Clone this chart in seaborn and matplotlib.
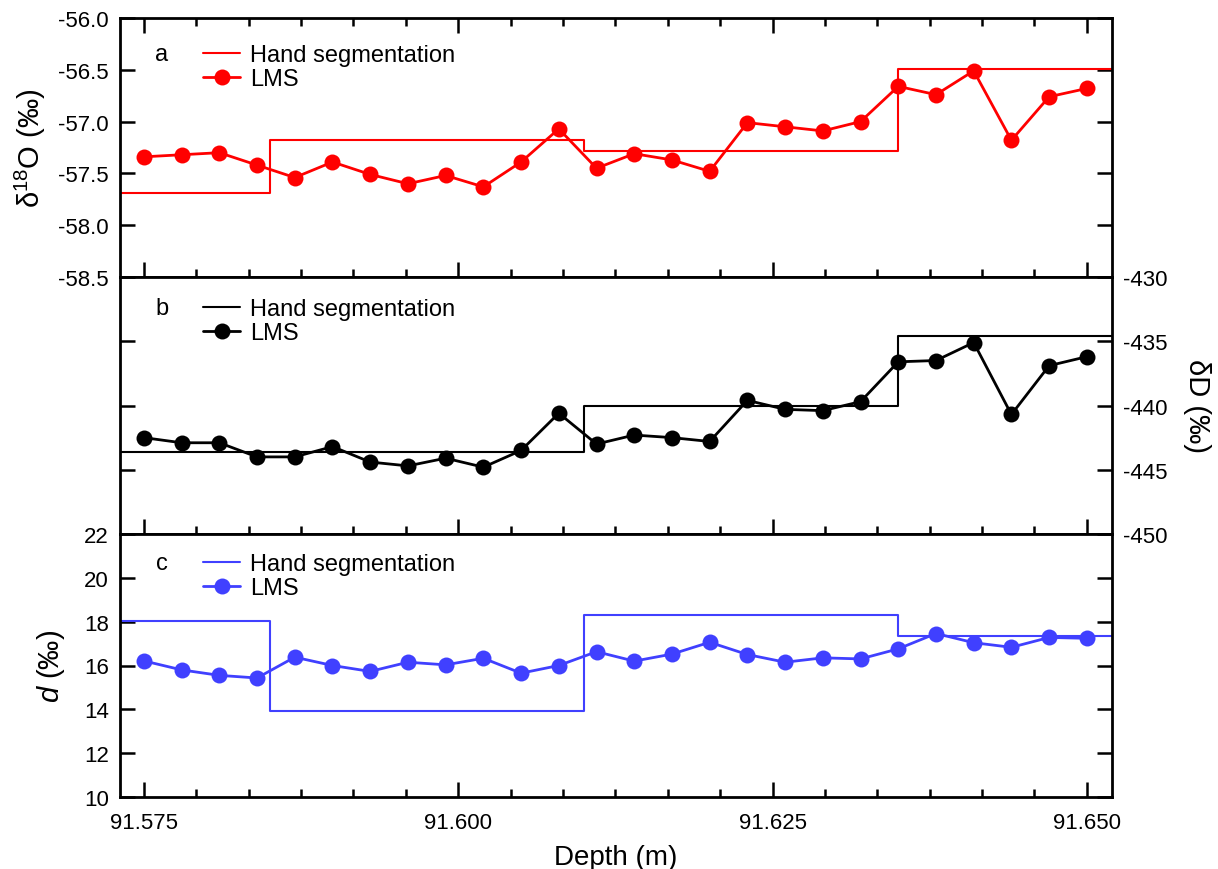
import matplotlib
matplotlib.use("Agg")
import matplotlib.pyplot as plt
import seaborn as sns
from matplotlib.ticker import MultipleLocator, AutoMinorLocator, FormatStrFormatter

# ---------------- data ----------------
depth = [91.575, 91.578, 91.581, 91.584, 91.587, 91.590, 91.593, 91.596, 91.599,
         91.602, 91.605, 91.608, 91.611, 91.614, 91.617, 91.620, 91.623, 91.626,
         91.629, 91.632, 91.635, 91.638, 91.641, 91.644, 91.647, 91.650]

d18O_lms = [-57.34, -57.32, -57.30, -57.42, -57.54, -57.39, -57.51, -57.60, -57.52,
            -57.63, -57.39, -57.07, -57.45, -57.31, -57.37, -57.48, -57.01, -57.05,
            -57.09, -57.00, -56.66, -56.74, -56.51, -57.18, -56.76, -56.68]

dD_lms = [-442.5, -442.9, -442.9, -444.0, -444.0, -443.2, -444.4, -444.7, -444.1,
          -444.8, -443.5, -440.6, -443.0, -442.3, -442.5, -442.8, -439.6, -440.3,
          -440.4, -439.7, -436.6, -436.5, -435.1, -440.7, -436.9, -436.2]

dex_lms = [16.21, 15.80, 15.55, 15.43, 16.38, 16.00, 15.73, 16.15, 16.03,
           16.33, 15.65, 16.00, 16.63, 16.20, 16.52, 17.06, 16.50, 16.15,
           16.35, 16.30, 16.76, 17.46, 17.04, 16.83, 17.28, 17.24]

seg_breaks = [91.585, 91.610, 91.635]
d18O_hand = [-57.69, -57.18, -57.28, -56.49]
dD_hand = [-443.6, -443.6, -440.0, -434.6]
dex_hand = [18.04, 13.92, 18.29, 17.36]

depth_lim = (91.5731, 91.6520)

# ---------------- style ----------------
sns.set_theme(style="ticks")
plt.rcParams["font.family"] = ["Liberation Sans", "DejaVu Sans"]
plt.rcParams["mathtext.fontset"] = "custom"
plt.rcParams["mathtext.rm"] = "Liberation Sans"
plt.rcParams["mathtext.it"] = "Liberation Sans:italic"
plt.rcParams["axes.unicode_minus"] = False
for k in ["text.color", "axes.labelcolor", "xtick.color", "ytick.color", "axes.edgecolor"]:
    plt.rcParams[k] = "black"

W, H = 1218, 870
fig = plt.figure(figsize=(W / 100, H / 100), dpi=100)

def add_ax(top, bottom, left=120, right=1112):
    return fig.add_axes([left / W, 1 - bottom / H, (right - left) / W, (bottom - top) / H])

ax_a = add_ax(19, 278)
ax_b = add_ax(278, 535)
ax_c = add_ax(535, 798)

RED = "#FF0000"
BLACK = "#000000"
BLUE = "#4040FF"

def step_xy(levels):
    xs = [depth_lim[0]] + seg_breaks + [depth_lim[1]]
    ys = list(levels) + [levels[-1]]
    return xs, ys

panels = [
    (ax_a, d18O_lms, d18O_hand, RED),
    (ax_b, dD_lms, dD_hand, BLACK),
    (ax_c, dex_lms, dex_hand, BLUE),
]

for ax, lms, hand, col in panels:
    sx, sy = step_xy(hand)
    sns.lineplot(x=sx, y=sy, ax=ax, color=col, linewidth=1.5,
                 drawstyle="steps-post", label="Hand segmentation", sort=False)
    sns.lineplot(x=depth, y=lms, ax=ax, color=col, linewidth=2.0, marker="o",
                 markersize=11.5, markeredgewidth=0, label="LMS", sort=False)
    ax.set_xlim(*depth_lim)
    ax.xaxis.set_major_locator(MultipleLocator(0.025))
    ax.xaxis.set_minor_locator(AutoMinorLocator(6))
    ax.xaxis.set_major_formatter(FormatStrFormatter("%.3f"))
    for s in ax.spines.values():
        s.set_linewidth(2.0)
        s.set_visible(True)
        s.set_color("black")
    ax.tick_params(axis="both", which="major", direction="in", length=11, width=1.8,
                   labelsize=16, colors="black")
    ax.tick_params(axis="y", which="major", pad=8)
    ax.tick_params(axis="x", which="major", pad=11)
    ax.tick_params(axis="both", which="minor", direction="in", length=6, width=1.8)
    ax.tick_params(axis="x", which="both", bottom=True, top=False, labelbottom=False)
    ax.tick_params(axis="y", which="both", left=True, right=True)
    ax.set_xlabel("")
    ax.set_ylabel("")
    ax.set_facecolor("white")

# panel a
ax_a.set_ylim(-58.5, -56.0)
ax_a.yaxis.set_major_locator(MultipleLocator(0.5))
ax_a.yaxis.set_major_formatter(FormatStrFormatter("%.1f"))
ax_a.tick_params(axis="x", which="both", top=True)
ax_a.tick_params(axis="y", labelleft=True, labelright=False)
ax_a.set_ylabel("δ$^{18}$O (‰)", fontsize=21)
ax_a.yaxis.set_label_coords(-0.0726, 0.5)

# panel b
ax_b.set_ylim(-450, -430)
ax_b.yaxis.set_major_locator(MultipleLocator(5))
ax_b.yaxis.set_major_formatter(FormatStrFormatter("%d"))
ax_b.tick_params(axis="y", labelleft=False, labelright=True)
ax_b.yaxis.set_label_position("right")
ax_b.set_ylabel("δD (‰)", fontsize=21, rotation=270, va="center")
ax_b.yaxis.set_label_coords(1.086, 0.5)

# panel c
ax_c.set_ylim(10, 22)
ax_c.yaxis.set_major_locator(MultipleLocator(2))
ax_c.yaxis.set_major_formatter(FormatStrFormatter("%d"))
ax_c.tick_params(axis="y", labelleft=True, labelright=False)
ax_c.tick_params(axis="x", labelbottom=True)
ax_c.set_ylabel("$d$ (‰)", fontsize=21)
ax_c.yaxis.set_label_coords(-0.053, 0.5)
ax_c.set_xlabel("Depth (m)", fontsize=20, labelpad=8)

# legends and panel letters
def frac(px, py, top, bottom, left=120, right=1112):
    return ((px - left) / (right - left), (bottom - py) / (bottom - top))

for ax, letter, top, bottom, row1 in [(ax_a, "a", 19, 278, 53),
                                      (ax_b, "b", 278, 535, 307),
                                      (ax_c, "c", 535, 798, 562)]:
    lx, ly = frac(162, row1 + 2, top, bottom)
    ax.text(lx, ly, letter, transform=ax.transAxes, fontsize=17,
            ha="center", va="center")
    ax_x, ax_y = frac(203, row1 - 8, top, bottom)
    ax.legend(loc="upper left", bbox_to_anchor=(ax_x, ax_y), frameon=False,
              fontsize=17, handlelength=1.57, handletextpad=0.42,
              labelspacing=0.1, borderpad=0, borderaxespad=0)

fig.savefig("out.png", dpi=100, facecolor="white")
